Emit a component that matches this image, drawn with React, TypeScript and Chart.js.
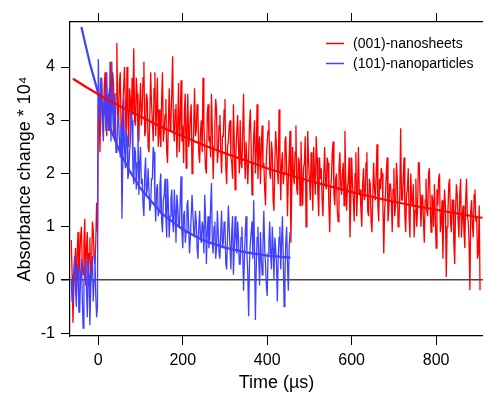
import React, { useEffect, useRef } from "react";
import { Chart, registerables } from "chart.js";

Chart.register(...registerables);

// ---- data (absorbance change * 10^4 vs time in µs) ----
const SAMPLE_START_US = -64;
const SAMPLE_STEP_US = 2;

const SERIES_LABELS = ["(001)-nanosheets", "(101)-nanoparticles"];
const X_TICKS = [0, 200, 400, 600, 800];
const Y_TICKS = [-1, 0, 1, 2, 3, 4];

// (001)-nanosheets, raw transient (one value every 2 µs from -64 µs)
const NANOSHEETS_RAW = [
  0.75, 0.1, -0.8, -0.2, 0.2, 0.6, -0.3, 0.5, 0.9, 0.0, 0.4, 0.8, 1.0, 0.3, 0.1, 0.7,
  1.15, -0.1, 0.6, 0.9, -0.1, 0.5, 0.8, 0.0, 0.2, 1.1, 0.95, 0.4, 0.3, 0.7, 1.45, 0.9,
  3.6, 3.1, 2.4, 3.3, 3.8, 2.9, 3.0, 3.6, 3.9, 3.2, 2.7, 3.4, 3.5, 2.8, 4.1, 3.3, 3.2, 3.9, 3.7, 2.9, 2.6, 3.5, 4.45, 3.1,
  3.0, 3.7, 3.9, 2.8, 2.7, 3.3, 3.6, 4.0, 3.3, 2.6, 4.0, 3.2, 2.5, 3.6, 3.4, 2.9, 3.8, 3.1, 4.35, 3.0, 2.9, 3.8, 3.5, 2.7,
  2.6, 3.3, 3.7, 2.9, 3.2, 3.8, 4.1, 2.7, 2.8, 3.5, 3.4, 2.5, 2.4, 3.1, 3.9, 3.3, 3.0, 2.6, 3.6, 3.9, 2.7, 3.2, 3.8, 2.5,
  3.2, 2.7, 2.5, 3.4, 3.9, 2.6, 2.8, 3.1, 3.4, 2.4, 2.2, 3.0, 3.6, 2.8, 3.0, 3.5, 4.2, 2.9, 2.6, 3.2, 3.3, 2.3, 2.9, 3.7,
  2.4, 3.0, 3.75, 2.6, 2.9, 2.2, 3.2, 3.5, 2.1, 2.8, 3.5, 2.5, 2.7, 3.1, 3.3, 2.0, 2.3, 2.9, 3.6, 2.7, 2.8, 3.3, 3.1, 2.4,
  2.2, 2.8, 3.0, 2.4, 3.8, 2.9, 2.5, 2.1, 2.0, 3.1, 3.3, 2.6, 2.7, 2.3, 3.5, 2.8, 1.9, 2.5, 2.9, 3.4, 3.2, 2.2, 2.4, 2.9,
  3.1, 2.4, 2.0, 2.7, 2.7, 3.2, 3.4, 2.1, 1.8, 2.5, 2.6, 2.9, 3.0, 2.3, 2.2, 1.9, 3.3, 2.6, 1.7, 2.4, 2.8, 3.1, 2.5, 2.0,
  3.0, 2.2, 2.1, 2.8, 3.5, 2.4, 1.9, 2.6, 2.6, 1.8, 2.3, 2.9, 3.2, 2.5, 1.6, 2.1, 2.7, 3.0, 2.0, 2.4, 3.3, 1.9, 2.4, 2.7,
  1.8, 2.5, 2.9, 2.1, 2.2, 1.7, 1.4, 2.3, 2.6, 2.8, 3.0, 2.0, 1.9, 2.6, 2.4, 1.5, 1.3, 2.2, 2.8, 2.5, 2.1, 1.8, 3.2, 2.4,
  1.5, 2.2, 2.4, 1.8, 2.0, 2.6, 2.7, 2.1, 1.2, 1.9, 2.3, 2.8, 0.7, 1.6, 2.5, 2.0, 1.8, 2.4, 2.9, 1.7, 1.6, 2.3, 2.2, 1.4,
  2.6, 1.9, 1.4, 2.1, 2.2, 2.7, 1.0, 1.8, 2.8, 2.2, 1.9, 1.5, 2.4, 2.0, 1.3, 2.5, 2.0, 1.6, 2.7, 2.3, 1.6, 1.2, 2.3, 1.9,
  2.1, 1.5, 1.2, 2.0, 2.5, 1.8, 1.7, 2.3, 2.2, 1.4, 0.9, 1.7, 1.9, 2.4, 2.6, 1.6, 1.4, 1.9, 2.0, 1.3, 1.1, 2.1, 2.4, 1.8,
  1.6, 2.0, 2.2, 1.4, 2.8, 1.9, 1.3, 1.7, 1.9, 2.3, 0.8, 1.5, 2.3, 1.8, 1.5, 1.1, 2.0, 2.4, 1.2, 1.7, 2.5, 1.6, 1.7, 1.3,
  1.0, 1.8, 2.1, 1.5, 1.6, 2.2, 2.4, 1.3, 1.2, 1.9, 1.8, 1.1, 0.9, 1.6, 2.2, 1.7, 1.5, 2.0, 2.55, 1.4, 1.1, 1.9, 1.7, 2.1,
  2.0, 1.4, 0.5, 1.3, 1.6, 2.0, 2.3, 1.1, 1.3, 1.8, 1.8, 1.5, 0.9, 1.7, 2.1, 1.2, 1.4, 2.2, 1.9, 1.0, 1.1, 1.6, 2.85, 1.5,
  1.5, 1.9, 2.3, 1.2, 0.9, 1.6, 1.7, 2.1, 1.2, 0.8, 2.0, 1.5, 1.4, 1.8, 0.8, 1.3, 1.9, 1.0, 1.3, 2.2, 2.2, 1.6, 1.0, 1.4,
  1.6, 1.1, 0.7, 1.5, 1.9, 1.3, 1.2, 2.0, 2.1, 1.4, 0.9, 1.6, 1.5, 1.0, 1.8, 1.2, 0.6, 1.7, 1.4, 1.9, 2.0, 0.9, 1.1, 1.5,
  0.4, 1.2, 1.7, 1.4, 0.06, 1.0, 1.3, 1.8, 1.9, 1.1, 0.9, 1.5, 1.5, 0.7, 0.3, 1.3, 1.8, 1.6, 1.1, 0.8, 1.6, 1.9, 0.8, 1.2,
  1.4, 0.9, 0.6, 1.5, 1.9, 1.2, 1.1, 0.7, -0.19, 1.3, 1.5, 1.0, 0.8, 1.6, 1.7, 1.1, 1.2, 0.4, 0.5, 1.4, -0.19,
];

// (101)-nanoparticles, raw transient (one value every 2 µs from -64 µs)
const NANOPARTICLES_RAW = [
  0.0, -0.4, -0.3, 0.2, 0.45, -0.1, -0.5, 0.3, 0.2, -0.6, -0.6, 0.1, 0.4, -0.3, -0.9, 0.0,
  0.1, 0.4, -0.2, -0.7, 0.35, 0.1, -0.85, -0.2, 0.2, 0.45, -0.4, 0.0, 0.5, -0.3, -0.7, -0.5,
  4.15, 3.4, 3.0, 3.8, 3.7, 2.9, 2.6, 3.3, 3.5, 2.8, 3.9, 3.1, 2.8, 3.6, 3.3, 2.6, 4.1, 3.2, 2.7, 3.5, 3.2, 2.4, 2.5, 3.0,
  3.1, 2.6, 2.3, 2.9, 1.15, 2.2, 3.4, 2.5, 2.1, 2.8, 2.7, 1.9, 2.0, 2.4, 2.6, 3.2, 3.0, 2.1, 1.8, 2.5, 2.4, 1.7, 2.2, 2.9,
  1.6, 2.2, 2.5, 1.8, 1.9, 1.4, 1.2, 2.0, 2.3, 1.6, 1.7, 2.1, 2.1, 1.3, 1.4, 1.9, 1.9, 2.5, 2.4, 1.5, 1.1, 1.7, 1.8, 1.2,
  1.3, 1.8, 2.0, 1.1, 0.9, 1.5, 1.6, 1.9, 1.2, 0.8, 1.9, 1.4, 0.8, 1.2, 1.5, 1.7, 1.1, 0.9, 1.7, 1.3, 0.7, 1.6, 1.4, 1.0,
  1.0, 1.5, 1.95, 0.9, 0.6, 1.2, 1.3, 0.7, 0.9, 1.4, 1.5, 1.0, 0.5, 0.8, 1.2, 1.6, 1.6, 0.9, 0.8, 1.3, 1.1, 0.6, 0.4, 1.0,
  1.3, 0.8, 0.7, 1.1, 1.0, 0.5, 1.6, 1.2, 0.3, 0.9, 1.2, 0.6, 0.8, 1.4, 1.82, 0.7, 0.5, 1.0, 1.1, 0.4, 0.6, 1.3, 0.9, 0.5,
  0.4, 0.9, 1.3, 0.6, 0.7, 1.1, 1.0, 0.3, 0.2, 0.8, 1.4, 1.0, 0.6, 0.2, 0.9, 1.2, 0.1, 0.6, 1.2, 0.8, 0.5, 1.1, 0.8, 0.3,
  0.3, 0.8, 1.0, 0.5, -0.2, 0.4, 0.9, 1.2, 0.5, 0.1, -0.68, 0.3, 0.7, 0.9, 1.1, 0.4, 1.5, 0.6, -0.75, 0.2, 0.8, 1.0, 0.4, -0.1,
  0.9, 0.4, 0.1, 0.7, 1.3, 0.6, 0.3, -0.1, -0.3, 0.5, 0.7, 1.1, 0.5, 0.2, 1.0, 0.6, 0.0, 0.8, 0.6, 0.3, -0.4, 0.4, 0.8, 1.0,
  0.2, 0.7, 1.2, 0.4, -0.5, 0.1, 0.7, 1.0, 0.3, -0.2, 0.6, 0.9,
];

// fitted decay curves
const NANOSHEETS_FIT_T = [-60, -30, 0, 50, 100, 150, 200, 250, 300, 350, 400, 450, 500, 550, 600, 650, 700, 750, 800, 850, 900, 910];
const NANOSHEETS_FIT_Y = [3.78, 3.63, 3.49, 3.27, 3.07, 2.87, 2.7, 2.53, 2.38, 2.24, 2.1, 1.98, 1.86, 1.76, 1.65, 1.56, 1.47, 1.39, 1.32, 1.25, 1.18, 1.17];
const NANOPARTICLES_FIT_T = [-40, -20, 0, 25, 50, 75, 100, 150, 200, 250, 300, 350, 400, 455];
const NANOPARTICLES_FIT_Y = [4.75, 4.07, 3.5, 2.91, 2.43, 2.04, 1.72, 1.25, 0.95, 0.74, 0.61, 0.52, 0.46, 0.42];

const RED = "#ff0000";
const BLUE = "#4040ff";
const FONT = "'Liberation Sans', Arial, Helvetica, sans-serif";

function rawPoints(values: number[]) {
  return values.map((y, i) => ({ x: SAMPLE_START_US + i * SAMPLE_STEP_US, y }));
}
function fitPoints(ts: number[], ys: number[]) {
  return ts.map((x, i) => ({ x, y: ys[i] }));
}

const legendPlugin = {
  id: "insideLegend",
  afterDraw(chart: any) {
    const ctx = chart.ctx;
    const items = [
      { label: SERIES_LABELS[0], color: RED, y: 43.5 },
      { label: SERIES_LABELS[1], color: BLUE, y: 63.5 },
    ];
    ctx.save();
    ctx.font = `14px ${FONT}`;
    ctx.textBaseline = "middle";
    ctx.textAlign = "left";
    for (const it of items) {
      ctx.strokeStyle = it.color;
      ctx.lineWidth = 1.5;
      ctx.beginPath();
      ctx.moveTo(326, it.y);
      ctx.lineTo(344, it.y);
      ctx.stroke();
      ctx.fillStyle = "#000";
      ctx.fillText(it.label, 353, it.y + 0.5);
    }
    ctx.restore();
  },
};

export default function App() {
  const ref = useRef<HTMLCanvasElement | null>(null);
  useEffect(() => {
    if (!ref.current) return;
    const chart = new Chart(ref.current, {
      type: "line",
      data: {
        datasets: [
          {
            label: SERIES_LABELS[0] + " fit",
            data: fitPoints(NANOSHEETS_FIT_T, NANOSHEETS_FIT_Y),
            borderColor: RED,
            borderWidth: 2.2,
            pointRadius: 0,
            order: 0,
          },
          {
            label: SERIES_LABELS[1],
            data: rawPoints(NANOPARTICLES_RAW),
            borderColor: BLUE,
            borderWidth: 1.3,
            pointRadius: 0,
            order: 1,
          },
          {
            label: SERIES_LABELS[1] + " fit",
            data: fitPoints(NANOPARTICLES_FIT_T, NANOPARTICLES_FIT_Y),
            borderColor: BLUE,
            borderWidth: 2.2,
            pointRadius: 0,
            order: 2,
          },
          {
            label: SERIES_LABELS[0],
            data: rawPoints(NANOSHEETS_RAW),
            borderColor: RED,
            borderWidth: 1.3,
            pointRadius: 0,
            order: 3,
          },
        ],
      },
      options: {
        animation: false,
        responsive: false,
        devicePixelRatio: 1,
        layout: { padding: 0 },
        plugins: { legend: { display: false }, tooltip: { enabled: false } },
        elements: { line: { tension: 0 } },
        scales: {
          x: {
            type: "linear",
            position: "bottom",
            min: -67,
            max: 911,
            afterBuildTicks: (s: any) => {
              s.ticks = X_TICKS.map((v) => ({ value: v }));
            },
            ticks: {
              autoSkip: false,
              maxRotation: 0,
              color: "#000",
              font: { family: FONT, size: 16 },
              padding: 6,
            },
            grid: { drawOnChartArea: false, drawTicks: true, tickLength: 9, color: "#000", lineWidth: 1 },
            border: { display: true, color: "#000", width: 1.2 },
            title: {
              display: true,
              text: "Time (µs)",
              color: "#000",
              font: { family: FONT, size: 18 },
              padding: { top: 0, bottom: 2 },
            },
            afterFit: (s: any) => {
              s.height = 60;
            },
          },
          xTop: {
            type: "linear",
            position: "top",
            min: -67,
            max: 911,
            afterBuildTicks: (s: any) => {
              s.ticks = X_TICKS.map((v) => ({ value: v }));
            },
            ticks: { display: false },
            grid: { drawOnChartArea: false, drawTicks: true, tickLength: 9, color: "#000", lineWidth: 1 },
            border: { display: true, color: "#000", width: 1.2 },
            afterFit: (s: any) => {
              s.height = 22;
            },
          },
          y: {
            type: "linear",
            position: "left",
            min: -1.05,
            max: 4.845,
            afterBuildTicks: (s: any) => {
              s.ticks = Y_TICKS.map((v) => ({ value: v }));
            },
            ticks: {
              color: "#000",
              font: { family: FONT, size: 16 },
              padding: 6,
            },
            grid: {
              drawOnChartArea: true,
              drawTicks: true,
              tickLength: 9,
              color: (c: any) => (c.tick && c.tick.value === 0 ? "#444" : "rgba(0,0,0,0)"),
              tickColor: "#000",
              lineWidth: (c: any) => (c.tick && c.tick.value === 0 ? 1.5 : 1),
            },
            border: { display: true, color: "#000", width: 1.2 },
            title: {
              display: true,
              text: "Absorbance change * 10⁴",
              color: "#000",
              font: { family: FONT, size: 18 },
              padding: { top: 14, bottom: 0 },
            },
            afterFit: (s: any) => {
              s.width = 70;
            },
          },
        },
      },
      plugins: [legendPlugin],
    } as any);
    return () => chart.destroy();
  }, []);
  return (
    <div style={{ position: "absolute", left: 0, top: 0, width: 483, height: 396, background: "#fff" }}>
      <canvas ref={ref} width={483} height={396} />
    </div>
  );
}
